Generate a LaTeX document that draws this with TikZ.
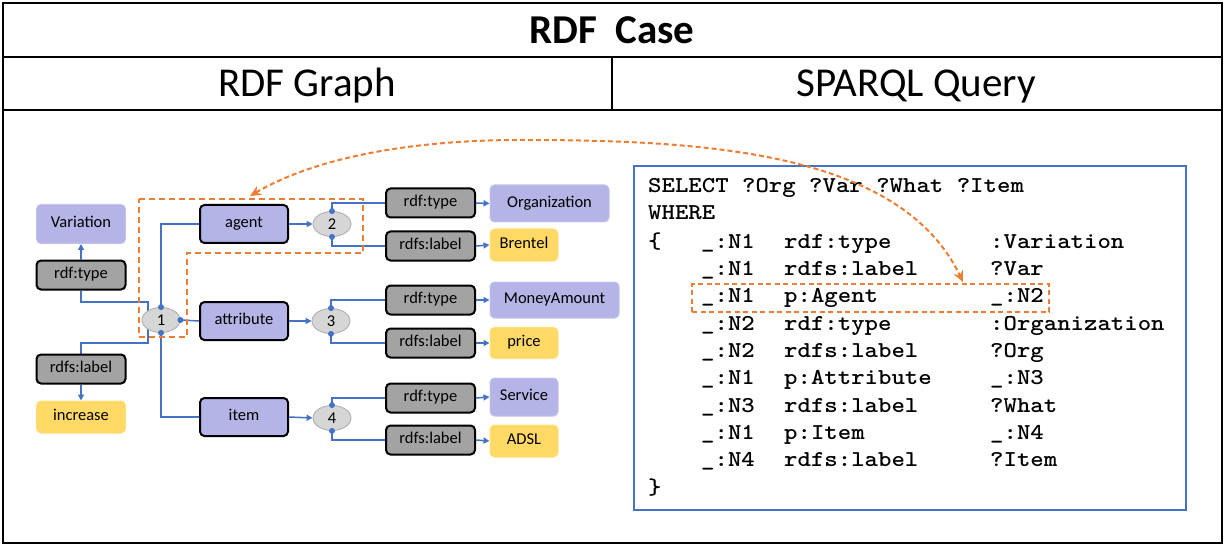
\documentclass[tikz,border=0pt]{standalone}
\usepackage{fontspec}
\setmainfont{Carlito}
\newfontfamily\codefont{lmmonolt10-bold.otf}[FakeStretch=1.126]
\usetikzlibrary{arrows.meta,shapes.geometric,backgrounds}
\definecolor{cblue}{HTML}{4472C4}
\definecolor{cora}{HTML}{ED7D31}
\definecolor{clav}{RGB}{180,180,230}
\definecolor{cyel}{HTML}{FFD966}
\definecolor{cgray}{RGB}{163,163,163}
\definecolor{cell}{RGB}{214,214,214}
\definecolor{celld}{RGB}{170,170,170}
\begin{document}
\begin{tikzpicture}[x=1pt,y=-1pt,
  lnk/.style={draw=cblue,line width=1.5pt},
  tip/.style={-{Triangle[length=6pt,width=6pt]}},
  gbox/.style={rectangle,rounded corners=4.5pt,inner sep=0pt,align=center,
    font=\fontsize{16.5}{18}\selectfont,text height=11pt,text depth=3.5pt},
  valbox/.style={gbox,fill=clav,draw=clav!80!white,line width=1pt},
  litbox/.style={gbox,fill=cyel,draw=cyel!85!white,line width=1pt},
  predbox/.style={gbox,fill=clav,draw=black,line width=2pt,minimum width=88pt,minimum height=38pt},
  relbox/.style={gbox,fill=cgray,draw=black,line width=2pt,minimum width=89pt,minimum height=29pt},
  blank/.style={ellipse,fill=cell,draw=celld,line width=0.8pt,minimum width=38pt,
    minimum height=25pt,inner sep=0pt,font=\fontsize{16.5}{18}\selectfont,text height=11pt,text depth=0pt},
  joint/.style={fill=cblue},
  region/.style={draw=cora,line width=2pt,dash pattern=on 6pt off 4pt},
  codeline/.style={anchor=base west,inner sep=0pt,font=\codefont\fontsize{22.7}{24}\selectfont},
  head/.style={anchor=base,inner sep=0pt,font=\fontsize{41}{41}\selectfont}
]
\useasboundingbox (0,0) rectangle (1225,545);

% table frame
\draw[line width=2.5pt] (3,3) rectangle (1222,543);
\draw[line width=2pt] (3,57) -- (1222,57);
\draw[line width=2pt] (3,110) -- (1222,110);
\draw[line width=2pt] (612,57) -- (612,110);
\node[head,font=\fontsize{41}{41}\selectfont\bfseries] (title) at (612,44) {RDF\ \ Case};
\node[head] (hgraph) at (307,97) {RDF Graph};
\node[head] (hquery) at (916,97) {SPARQL Query};

% left column
\node[valbox,minimum width=89pt,minimum height=39pt] (variation) at (81,224) {Variation};
\node[relbox] (typeL) at (81,275) {rdf:type};
\node[relbox] (labelL) at (81,369) {rdfs:label};
\node[litbox,minimum width=89pt,minimum height=32pt] (increase) at (81,417) {increase};

% blank nodes and predicates
\node[blank] (b1) at (161,320) {1};
\node[predbox] (agent) at (244,224) {agent};
\node[predbox] (attribute) at (244,321) {attribute};
\node[predbox] (item) at (244,417) {item};
\node[blank] (b2) at (332,224) {2};
\node[blank] (b3) at (331,321) {3};
\node[blank] (b4) at (332,418) {4};

% relations and values on the right
\node[relbox] (type2) at (430.5,203) {rdf:type};
\node[relbox] (label2) at (430.5,246) {rdfs:label};
\node[relbox] (type3) at (430.5,300) {rdf:type};
\node[relbox] (label3) at (430.5,343) {rdfs:label};
\node[relbox] (type4) at (430.5,398) {rdf:type};
\node[relbox] (label4) at (430.5,440) {rdfs:label};
\node[valbox,minimum width=119pt,minimum height=37pt] (organization) at (549.5,203.5) {Organization};
\node[litbox,minimum width=68pt,minimum height=32pt] (brentel) at (524,245) {Brentel};
\node[valbox,minimum width=129pt,minimum height=36pt] (money) at (554.5,300) {MoneyAmount};
\node[litbox,minimum width=68pt,minimum height=31pt] (price) at (524,343) {price};
\node[valbox,minimum width=68pt,minimum height=38pt] (service) at (524,397) {Service};
\node[litbox,minimum width=68pt,minimum height=32pt] (adsl) at (524,441) {ADSL};

\coordinate (bendA) at (148,302);
\coordinate (bendB) at (148,343);

\begin{scope}[on background layer]
  \draw[lnk] (typeL.south) |- (bendA) -- (bendB) -| (labelL.north);
  \draw[lnk] (b1.north) |- (agent.west);
  \draw[lnk] (b1.east) -- (attribute.west);
  \draw[lnk] (b1.south) |- (item.west);
\end{scope}
\draw[lnk,tip] (typeL.north) -- (variation.south);
\draw[lnk,tip] (labelL.south) -- (increase.north);
\draw[lnk,tip] (agent.east) -- (b2.west);
\draw[lnk,tip] (attribute.east) -- (b3.west);
\draw[lnk,tip] (item.east) -- (b4.west);
\foreach \b/\t/\l in {b2/type2/label2,b3/type3/label3,b4/type4/label4}{
  \draw[lnk] (\b.north) |- (\t.west);
  \draw[lnk] (\b.south) |- (\l.west);
  \fill[joint] (\b.north) circle[radius=3pt];
  \fill[joint] (\b.south) circle[radius=3pt];
}
\fill[joint] (b1.north) circle[radius=3pt];
\fill[joint] (b1.east) circle[radius=3pt];
\fill[joint] (b1.south) circle[radius=3pt];
\draw[lnk,tip] (type2.east) -- (organization.west);
\draw[lnk,tip] (label2.east) -- (brentel.west);
\draw[lnk,tip] (type3.east) -- (money.west);
\draw[lnk,tip] (label3.east) -- (price.west);
\draw[lnk,tip] (type4.east) -- (service.west);
\draw[lnk,tip] (label4.east) -- (adsl.west);

% highlighted agent triple in the graph
\draw[region] (139,199) -- (363,199) -- (363,253) -- (187,253) -- (187,337) -- (139,337) -- cycle;

% SPARQL query panel
\draw[cblue,line width=1.5pt] (634,166) rectangle (1186,510);
\node[codeline] (q0) at (648,193) {SELECT ?Org ?Var ?What ?Item};
\node[codeline] (q1) at (648,220) {WHERE};
\node[codeline] (qopen) at (648,248) {\{};
\foreach \s/\p/\o [count=\i from 0] in {
  {\_:N1}/{rdf:type}/{:Variation},
  {\_:N1}/{rdfs:label}/{?Var},
  {\_:N1}/{p:Agent}/{\_:N2},
  {\_:N2}/{rdf:type}/{:Organization},
  {\_:N2}/{rdfs:label}/{?Org},
  {\_:N1}/{p:Attribute}/{\_:N3},
  {\_:N3}/{rdfs:label}/{?What},
  {\_:N1}/{p:Item}/{\_:N4},
  {\_:N4}/{rdfs:label}/{?Item}}{
  \pgfmathsetmacro{\yy}{248+27.37*\i}
  \node[codeline] (s\i) at (701,\yy) {\s};
  \node[codeline] (p\i) at (784,\yy) {\p};
  \node[codeline] (o\i) at (990,\yy) {\o};
}
\node[codeline] (qclose) at (648,494) {\}};

% highlighted agent pattern in the query
\node[draw=cora,line width=1.5pt,dash pattern=on 5pt off 3.5pt,inner sep=0pt,
  minimum width=357pt,minimum height=28pt] (hl) at (870.5,298) {};

% link between the two highlighted parts
\coordinate (endL) at (250,196);
\coordinate (endR) at (963,282);
\draw[cora,line width=2pt,dash pattern=on 5pt off 3pt,
  {Stealth[length=11pt,width=10pt]}-{Stealth[length=11pt,width=10pt]}]
  (endL) .. controls (320,155) and (420,140) .. (520,140)
  .. controls (700,140) and (900,150) .. (endR);
\end{tikzpicture}
\end{document}
